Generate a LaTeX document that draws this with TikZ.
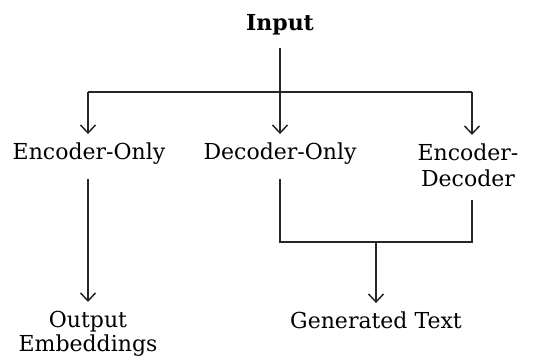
\documentclass[tikz,border=0pt]{standalone}
\usepackage{fontspec}
\setmainfont{DejaVu Serif}
\usetikzlibrary{arrows.meta}
\begin{document}
\begin{tikzpicture}[x=1pt,y=-1pt,
  lbl/.style={font=\fontsize{22}{24}\selectfont, inner xsep=0pt, inner ysep=9pt, align=center},
  line/.style={line width=1.5pt, black!85},
  arr/.style={line, -{Straight Barb[length=8pt,width=15pt,line width=1.5pt]}}]
\useasboundingbox (0,0) rectangle (542,358);
% nodes
\node[lbl, font=\fontsize{22}{24}\selectfont\bfseries, anchor=base] (in) at (280,31) {Input};
\node[lbl, anchor=base] (eo) at (89,160) {Encoder-Only};
\node[lbl, anchor=base] (do) at (280,160) {Decoder-Only};
\node[lbl, font=\fontsize{22}{26}\selectfont, anchor=north] (ed) at (468,135) {Encoder-\\Decoder};
\node[lbl, anchor=north] (oe) at (88,302) {Output\\Embeddings};
\node[lbl, anchor=base] (gt) at (376,329) {Generated Text};
% junctions
\coordinate (jl) at (88,92);
\coordinate (jc) at (280,92);
\coordinate (jr) at (472,92);
\coordinate (bm) at (376,242);
\coordinate (br) at (472,242);
% connectors
\draw[line, shorten <=3pt] (in.south) -- (jc);
\draw[line] (jl) -- (jr);
\draw[arr] (jl) -- (jl |- eo.north);
\draw[arr] (jc) -- (do.north);
\draw[arr] (jr) -- (jr |- ed.north);
\draw[arr, shorten <=5pt] (eo.south -| jl) -- (oe.north);
\draw[line, shorten <=5pt, shorten >=4pt] (do.south) |- (br) -- (ed.south -| br);
\draw[arr] (bm) -- (gt.north);
\end{tikzpicture}
\end{document}
